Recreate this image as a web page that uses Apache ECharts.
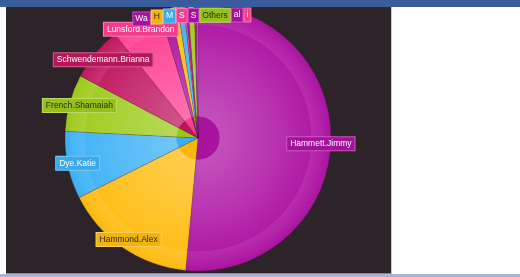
<!DOCTYPE html>
<html>
<head>
<meta charset="utf-8">
<script src="https://cdn.jsdelivr.net/npm/echarts@6/dist/echarts.min.js"></script>
<style>
    body { margin: 0; background: #ffffff; width: 520px; height: 277px; overflow: hidden; position: relative; }
    #topBar { position: absolute; left: 0; top: 0; width: 520px; height: 7px; background: #3a5c9c; }
    #bottomBar { position: absolute; left: 0; top: 274px; width: 520px; height: 3px; background: #a3b8d6; }
    #chartBox { position: absolute; left: 6px; top: 7px; width: 385px; height: 266px; background: #2c2429; border-right: 1px solid #c9c9c9; border-bottom: 1px solid #8a8a8a; }
</style>
</head>
<body>
<div id="topBar"></div>
<div id="chartBox"></div>
<div id="bottomBar"></div>
<script>
// slice names and shares (percent)
var sliceNames = [
    "Hammett.Jimmy", "Hammond.Alex", "Dye.Katie", "French.Shamaiah",
    "Schwendemann.Brianna", "Lunsford.Brandon",
    "Wa", "H", "M", "S", "S", "Others", "al", "i"
]
var sliceValues = [51.4, 16.1, 8.2, 6.9, 6.5, 6.1, 1.3, 0.9, 0.75, 0.25, 0.25, 0.75, 0.25, 0.2]
var bigSliceCount = 6

// colours per slice (style only)
var sliceColors = [
    "#ad13a2", "#ffbc10", "#3eb2f6", "#9ecb1c",
    "#c0175f", "#ff3f93",
    "#ad13a2", "#ffbc10", "#3eb2f6", "#ff3f93", "#ad13a2", "#9ecb1c", "#ad13a2", "#ff3f93"
]
var darkText = { "#ffbc10": true, "#9ecb1c": true }

var pieCx = 192, pieCy = 131, pieR = 133

function mix(hex, target, t) {
    var r = parseInt(hex.substr(1, 2), 16), g = parseInt(hex.substr(3, 2), 16), b = parseInt(hex.substr(5, 2), 16)
    r = Math.round(r + (target - r) * t)
    g = Math.round(g + (target - g) * t)
    b = Math.round(b + (target - b) * t)
    return "rgb(" + r + "," + g + "," + b + ")"
}

function sliceFill(c) {
    // glossy look: darker hub, lighter body, soft outer ring
    return new echarts.graphic.RadialGradient(pieCx, pieCy, pieR, [
        { offset: 0, color: mix(c, 0, 0.04) },
        { offset: 0.16, color: mix(c, 0, 0.02) },
        { offset: 0.165, color: mix(c, 255, 0.26) },
        { offset: 0.5, color: mix(c, 255, 0.16) },
        { offset: 0.85, color: mix(c, 255, 0.04) },
        { offset: 0.855, color: mix(c, 255, 0.12) },
        { offset: 0.93, color: mix(c, 255, 0.06) },
        { offset: 1, color: mix(c, 0, 0.02) }
    ], true)
}

var pieData = sliceNames.map(function (n, i) {
    var c = sliceColors[i]
    return {
        name: n,
        value: sliceValues[i],
        itemStyle: { color: sliceFill(c) },
        label: {
            color: darkText[c] ? "#2a2a10" : "#ffffff",
            backgroundColor: mix(c, 0, 0.05),
            borderColor: mix(c, 255, 0.3),
            borderWidth: 1,
            padding: i < bigSliceCount ? [2, 3, 2, 3] : [2, 2, 2, 2]
        }
    }
})

var chart = echarts.init(document.getElementById("chartBox"), null, { renderer: "canvas" })

var option = {
    backgroundColor: "#2c2429",
    animation: false,
    series: [
        {
            type: "pie",
            center: [pieCx, pieCy],
            radius: [0, pieR],
            startAngle: 90,
            clockwise: true,
            data: pieData,
            itemStyle: {
                borderColor: "rgba(60,20,50,0.35)",
                borderWidth: 0.5
            },
            label: { show: false },
            labelLine: { show: false },
            silent: true
        },
        {
            // label carrier: transparent pie whose "inside" point sits near the rim
            type: "pie",
            center: [pieCx, pieCy],
            radius: [0, 240],
            startAngle: 90,
            clockwise: true,
            data: pieData.map(function (d) {
                return { name: d.name, value: d.value, label: d.label }
            }),
            itemStyle: { color: "rgba(0,0,0,0)" },
            label: {
                show: true,
                position: "inside",
                fontFamily: "Liberation Sans",
                fontSize: 8.5,
                lineHeight: 9,
                formatter: "{b}"
            },
            // the crowded thin slices near the top get spread out sideways
            labelLayout: function (params) {
                if (params.dataIndex < bigSliceCount) return {}
                return { moveOverlap: "shiftX", align: "left", dx: -34 }
            },
            labelLine: { show: false },
            silent: true
        }
    ]
}
chart.setOption(option)
</script>
</body>
</html>
